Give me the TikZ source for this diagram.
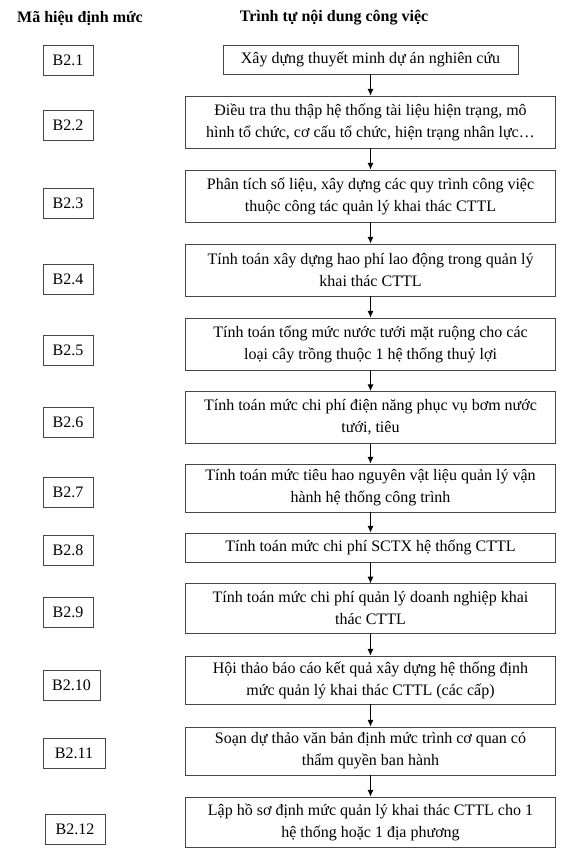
\documentclass[tikz,border=0pt]{standalone}
\usepackage{fontspec}
\setmainfont{Liberation Serif}
\usetikzlibrary{positioning,arrows.meta}
\definecolor{boxgray}{RGB}{70,70,70}
\tikzset{
  head/.style={font=\bfseries\fontsize{12}{14}\selectfont,inner sep=0pt},
  task/.style={draw=boxgray,line width=0.7pt,align=center,minimum width=278pt,minimum height=21.75pt,inner sep=2pt,font=\fontsize{12}{16.5}\selectfont},
  tall/.style={minimum height=39pt},
  code/.style={draw=boxgray,line width=0.7pt,minimum width=37.5pt,minimum height=22.5pt,inner sep=1pt,font=\fontsize{12}{14}\selectfont},
  flow/.style={line width=0.7pt,-{Latex[length=5pt,width=4.5pt]}}
}
\begin{document}
\begin{tikzpicture}[x=0.75pt,y=-0.75pt]
  \useasboundingbox (0,0) rectangle (576,856);
  % column headings
  \node[head] (hcode) at (80,18) {Mã hiệu định mức};
  \node[head] (htask) at (334,18) {Trình tự nội dung công việc};
  % work steps
  \node[task,minimum width=221.25pt] (t1) at (370.5,59.5) {Xây dựng thuyết minh dự án nghiên cứu};
  \node[task,tall] (t2) at (370.5,122) {Điều tra thu thập hệ thống tài liệu hiện trạng, mô\\hình tổ chức, cơ cấu tổ chức, hiện trạng nhân lực…};
  \node[task,tall] (t3) at (370.5,196) {Phân tích số liệu, xây dựng các quy trình công việc\\thuộc công tác quản lý khai thác CTTL};
  \node[task,tall] (t4) at (370.5,270) {Tính toán xây dựng hao phí lao động trong quản lý\\khai thác CTTL};
  \node[task,tall] (t5) at (370.5,344) {Tính toán tổng mức nước tưới mặt ruộng cho các\\loại cây trồng thuộc 1 hệ thống thuỷ lợi};
  \node[task,tall] (t6) at (370.5,417.5) {Tính toán mức chi phí điện năng phục vụ bơm nước\\tưới, tiêu};
  \node[task,tall,minimum height=36pt] (t7) at (370.5,488) {Tính toán mức tiêu hao nguyên vật liệu quản lý vận\\hành hệ thống công trình};
  \node[task] (t8) at (370.5,547.5) {Tính toán mức chi phí SCTX hệ thống CTTL};
  \node[task,tall,minimum height=37pt] (t9) at (370.5,608.5) {Tính toán mức chi phí quản lý doanh nghiệp khai\\thác CTTL};
  \node[task,tall,minimum height=36pt] (t10) at (370.5,680) {Hội thảo báo cáo kết quả xây dựng hệ thống định\\mức quản lý khai thác CTTL (các cấp)};
  \node[task,tall,minimum height=36pt] (t11) at (370.5,751) {Soạn dự thảo văn bản định mức trình cơ quan có\\thẩm quyền ban hành};
  \node[task,tall,minimum height=37.5pt] (t12) at (370.5,822) {Lập hồ sơ định mức quản lý khai thác CTTL cho 1\\hệ thống hoặc 1 địa phương};
  % codes
  \node[code] (c1) at (68,60) {B2.1};
  \node[code] (c2) at (68,125) {B2.2};
  \node[code] (c3) at (68,203.5) {B2.3};
  \node[code] (c4) at (68,279) {B2.4};
  \node[code] (c5) at (68,350.5) {B2.5};
  \node[code] (c6) at (68,422.5) {B2.6};
  \node[code] (c7) at (68,492) {B2.7};
  \node[code] (c8) at (68,550) {B2.8};
  \node[code] (c9) at (68,612) {B2.9};
  \node[code,minimum width=42.75pt] (c10) at (71.5,685.5) {B2.10};
  \node[code,minimum width=46.5pt] (c11) at (74,753) {B2.11};
  \node[code,minimum width=45pt] (c12) at (75,829.5) {B2.12};
  % arrows
  \draw[flow] (t1) -- (t2); \draw[flow] (t2) -- (t3); \draw[flow] (t3) -- (t4);
  \draw[flow] (t4) -- (t5); \draw[flow] (t5) -- (t6); \draw[flow] (t6) -- (t7);
  \draw[flow] (t7) -- (t8); \draw[flow] (t8) -- (t9); \draw[flow] (t9) -- (t10);
  \draw[flow] (t10) -- (t11); \draw[flow] (t11) -- (t12);
\end{tikzpicture}
\end{document}
